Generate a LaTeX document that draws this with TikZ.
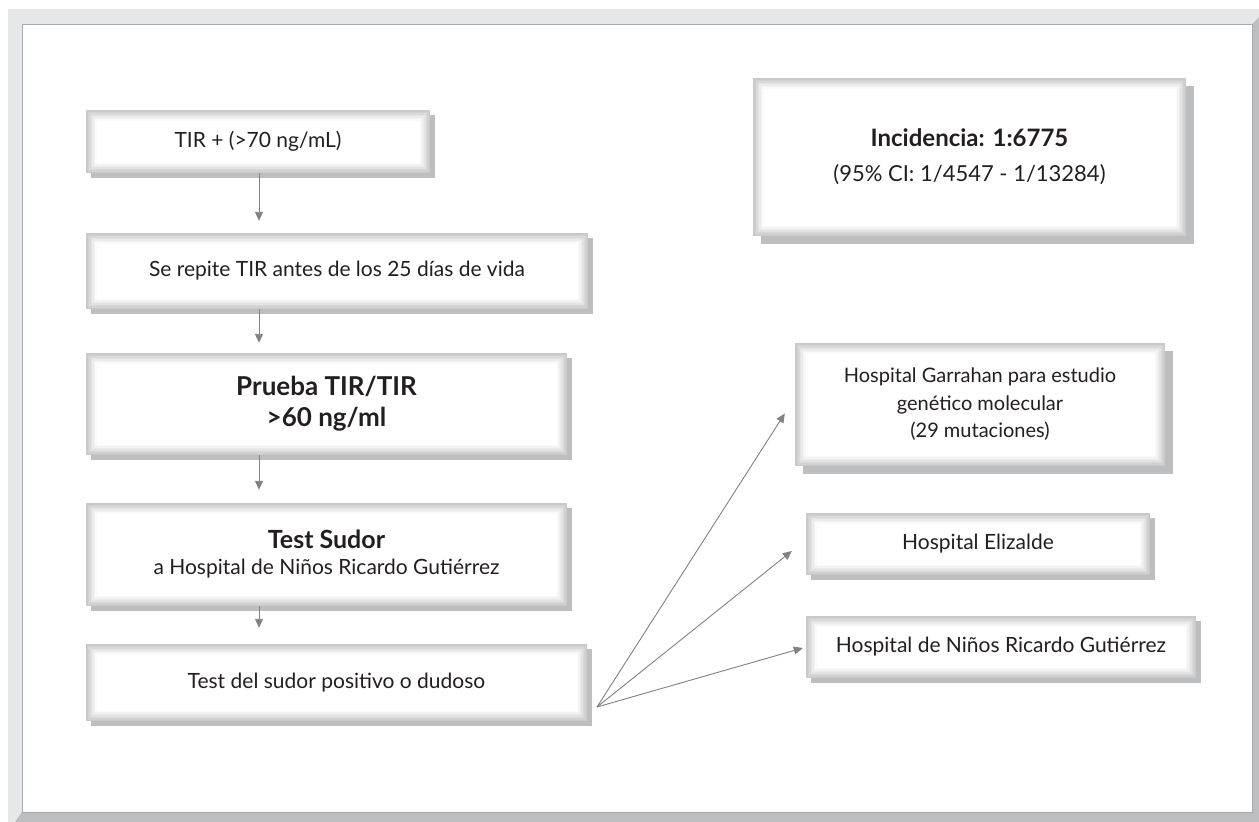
\documentclass[tikz,border=0pt]{standalone}
\usepackage{fontspec}
\setmainfont{Lato}
\usetikzlibrary{arrows.meta, calc, positioning, shadows}
\definecolor{cFrameLight}{HTML}{E6E7E8}
\definecolor{cFrameDark}{HTML}{BCBEC0}
\definecolor{cFrameLine}{HTML}{A7A9AC}
\definecolor{cShadow}{HTML}{BCBEC0}
\definecolor{cArrow}{HTML}{808285}
\definecolor{cText}{HTML}{231F20}
\newcommand{\bigbold}[1]{{\fontsize{25}{28}\selectfont\bfseries #1}}
\tikzset{
	flowbox/.style={rectangle, fill=white, inner sep=0pt, align=center, text=cText, font=\fontsize{21}{26}\selectfont,
		drop shadow={shadow xshift=#1, shadow yshift=-#1, fill=cShadow, opacity=1},
		path picture={
			\foreach \bw/\bc in {0.75/21,2.25/18,3.75/15,5.25/11,6.75/8,8.25/5,9.75/2} {
				\draw[line width=1.5pt, draw=black!\bc]
					($(path picture bounding box.south west)+(\bw*1pt,\bw*1pt)$) rectangle
					($(path picture bounding box.north east)-(\bw*1pt,\bw*1pt)$);
			}
		}},
	flowbox/.default=5pt,
	flowarrow/.style={-{Triangle[length=9pt,width=8pt]}, draw=cArrow, line width=0.9pt},
}

\begin{document}
\begin{tikzpicture}[x=1pt, y=-1pt]
	\useasboundingbox (0,0) rectangle (1259,822);
	% page frame
	\fill[cFrameLight] (8,9) rectangle (1259,822);
	\fill[cFrameDark] (1259,17) -- (1259,822) -- (15,822) -- (22,812) -- (1252,812) -- (1252,24) -- cycle;
	\filldraw[fill=white, draw=cFrameLine, line width=1pt] (22,24) rectangle (1252,812);

	% left column
	\node[flowbox, minimum width=344pt, minimum height=63pt] (tir) at (258,141.5) {TIR + (>70 ng/mL)};
	\node[flowbox, minimum width=502pt, minimum height=76pt] (repite) at (337,271) {Se repite TIR antes de los 25 días de vida};
	\node[flowbox, minimum width=481pt, minimum height=102pt, font=\fontsize{26}{31}\selectfont\bfseries] (prueba) at (326.5,404) {Prueba TIR/TIR\\>60 ng/ml};
	\node[flowbox, minimum width=481pt, minimum height=103pt] (sudor) at (326.5,554.5) {\bigbold{Test Sudor}\\a Hospital de Niños Ricardo Gutiérrez};
	\node[flowbox, minimum width=501pt, minimum height=77pt] (positivo) at (336.5,682.5) {Test del sudor positivo o dudoso};

	% right column
	\node[flowbox=8pt, minimum width=433pt, minimum height=158pt, font=\fontsize{22}{30}\selectfont] (inc) at (969.5,157) {{\fontsize{24}{30}\selectfont\bfseries Incidencia: 1:6775}\\[5pt](95\% CI: 1/4547 - 1/13284)};
	\node[flowbox=8pt, minimum width=370pt, minimum height=123pt, font=\fontsize{20}{27.5}\selectfont] (garr) at (980,404.5) {Hospital Garrahan para estudio\\genético molecular\\(29 mutaciones)};
	\node[flowbox, minimum width=344pt, minimum height=62pt] (eliz) at (978,544) {Hospital Elizalde};
	\node[flowbox, minimum width=390pt, minimum height=62pt] (ninos) at (1001,647) {Hospital de Niños Ricardo Gutiérrez};

	% connectors
	\coordinate (stem) at ([xshift=1pt]tir.south);
	\coordinate (fork) at (597,707);
	\draw[flowarrow, shorten >=12pt] (stem) -- (stem |- repite.north);
	\draw[flowarrow, shorten >=10pt] (stem |- repite.south) -- (stem |- prueba.north);
	\draw[flowarrow, shorten >=13pt] (stem |- prueba.south) -- (stem |- sudor.north);
	\draw[flowarrow, shorten >=16pt] (stem |- sudor.south) -- (stem |- positivo.north);
	\draw[flowarrow] (fork) -- ([xshift=-10pt, yshift=-9pt]garr.west);
	\draw[flowarrow] (fork) -- ([xshift=-14pt, yshift=-7pt]eliz.west);
	\draw[flowarrow] (fork) -- ([xshift=-3pt, yshift=-1pt]ninos.west);
\end{tikzpicture}
\end{document}
